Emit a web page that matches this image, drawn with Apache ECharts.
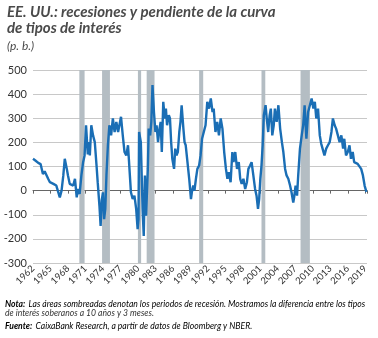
<!DOCTYPE html>
<html><head><meta charset="utf-8">
<script src="https://cdn.jsdelivr.net/npm/echarts@6/dist/echarts.min.js"></script>
<style>html,body{margin:0;padding:0;background:#fff}#c{width:378px;height:338px}</style>
</head><body><div id="c"></div>
<script>
const years = [1962.0,1962.4,1962.9,1963.3,1963.5,1963.7,1964.0,1964.3,1964.6,1964.9,1965.2,1965.5,1965.75,1966.0,1966.3,1966.6,1966.9,1967.2,1967.45,1967.8,1968.0,1968.3,1968.6,1968.9,1969.2,1969.5,1969.7,1970.0,1970.3,1970.6,1970.85,1971.1,1971.4,1971.55,1971.75,1972.0,1972.3,1972.6,1972.9,1973.1,1973.4,1973.6,1973.8,1974.0,1974.2,1974.4,1974.6,1974.85,1975.1,1975.4,1975.7,1976.0,1976.3,1976.6,1976.85,1977.1,1977.4,1977.7,1978.0,1978.3,1978.55,1978.8,1979.1,1979.4,1979.7,1979.95,1980.1,1980.2,1980.5,1980.8,1981.0,1981.2,1981.4,1981.7,1981.85,1982.1,1982.3,1982.5,1982.75,1983.0,1983.2,1983.45,1983.7,1983.9,1984.1,1984.35,1984.6,1984.8,1985.0,1985.3,1985.5,1985.7,1985.9,1986.2,1986.4,1986.6,1986.85,1987.1,1987.3,1987.5,1987.8,1988.0,1988.2,1988.5,1988.8,1989.1,1989.25,1989.5,1989.7,1989.95,1990.2,1990.5,1990.75,1991.0,1991.3,1991.6,1991.9,1992.2,1992.5,1992.8,1993.0,1993.3,1993.6,1993.9,1994.2,1994.5,1994.8,1995.1,1995.35,1995.6,1995.9,1996.2,1996.4,1996.7,1997.0,1997.3,1997.55,1997.8,1998.1,1998.4,1998.7,1998.95,1999.25,1999.5,1999.8,2000.1,2000.35,2000.6,2000.8,2001.0,2001.2,2001.4,2001.6,2001.9,2002.1,2002.35,2002.6,2002.8,2003.05,2003.3,2003.5,2003.8,2004.1,2004.4,2004.7,2004.95,2005.25,2005.5,2005.8,2006.1,2006.35,2006.65,2006.8,2007.05,2007.3,2007.5,2007.8,2008.1,2008.35,2008.6,2008.9,2009.2,2009.5,2009.8,2010.1,2010.35,2010.6,2010.9,2011.2,2011.45,2011.75,2012.0,2012.3,2012.6,2012.9,2013.2,2013.45,2013.75,2014.0,2014.3,2014.6,2014.9,2015.2,2015.4,2015.7,2016.0,2016.3,2016.55,2016.85,2017.1,2017.4,2017.7,2018.0,2018.3,2018.6,2018.9,2019.2];
const spread = [132,125,115,110,104,69,80,76,49,35,42,28,35,21,28,-28,0,63,132,90,63,28,35,21,49,-28,7,-14,63,118,146,271,150,201,146,271,229,201,104,35,-63,-146,-40,-7,-118,-76,63,188,271,229,299,243,285,243,250,306,229,160,146,188,90,-7,-35,-21,-76,-160,-118,243,201,-76,-188,63,-104,90,257,229,285,438,326,243,271,201,257,285,160,368,299,340,271,313,299,201,132,90,174,146,160,243,285,354,257,201,188,118,49,-35,-7,21,0,49,90,104,146,215,243,271,368,340,382,326,340,243,285,229,299,257,160,90,49,76,35,160,118,160,90,118,49,28,49,7,35,90,104,118,63,7,-21,-76,-35,49,104,188,313,354,299,243,313,340,229,271,340,285,354,257,201,160,90,63,49,21,-7,-49,-28,21,-21,63,174,229,271,354,215,326,354,382,340,368,299,340,229,194,201,146,174,188,201,243,299,271,257,229,201,229,174,215,146,160,188,132,160,118,125,111,118,90,63,20,-5];
const recStart = [1969.95,1973.85,1980.0,1981.5,1990.5,2001.2,2007.9];
const recEnd   = [1970.85,1975.2,1980.55,1982.85,1991.2,2001.85,2009.5];
const yearTicks = [1962,1965,1968,1971,1974,1977,1980,1983,1986,1989,1992,1995,1998,2001,2004,2007,2010,2013,2016,2019];
const yTicks = [-300,-200,-100,0,100,200,300,400,500];

const chart = echarts.init(document.getElementById('c'));
const F = 'Lato';
const isTick = v => yearTicks.some(t => Math.abs(t - v) < 1e-6);
chart.setOption({
  animation:false,
  textStyle:{fontFamily:F},
  grid:{left:33,right:11,top:70,bottom:75,containLabel:false},
  xAxis:[{
    type:'value',min:1962,max:2019.3,interval:3,
    axisLine:{show:false,onZero:false},axisTick:{show:false},splitLine:{show:false},
    axisLabel:{rotate:45,fontSize:9.5,color:'#333',margin:4,fontFamily:F,
      showMaxLabel:false,
      formatter:v=>isTick(v)?String(Math.round(v)):''}
  },{
    type:'value',min:1962,max:2019.3,interval:3,position:'bottom',
    axisLine:{show:true,onZero:true,lineStyle:{color:'#666',width:1}},
    axisTick:{show:true,length:3,lineStyle:{color:'#666'}},
    axisLabel:{show:false},splitLine:{show:false}
  }],
  yAxis:{type:'value',min:-300,max:500,interval:100,
    axisLine:{show:false},axisTick:{show:false},
    axisLabel:{fontSize:11,color:'#333',margin:6,fontFamily:F},
    splitLine:{lineStyle:{color:'#c8c8c8',width:1}}},
  series:[{
    type:'line',xAxisIndex:0,symbol:'none',
    data:years.map((y,i)=>[y,spread[i]]),
    lineStyle:{color:'#1a6eb5',width:2.4},
    z:5,
    markArea:{silent:true,itemStyle:{color:'#b4bdc3',opacity:1},
      data:recStart.map((s,i)=>[{xAxis:s},{xAxis:recEnd[i]}])}
  }],
  graphic:[
    {type:'text',left:7,top:5,style:{text:'EE. UU.: recesiones y pendiente de la curva',font:'italic bold 15px Lato',fill:'#4a4a4a'}},
    {type:'text',left:7,top:21,style:{text:'de tipos de interés',font:'italic bold 15px Lato',fill:'#4a4a4a'}},
    {type:'text',left:7,top:40,style:{text:'(p. b.)',font:'italic 12px Lato',fill:'#4a4a4a'}},
    {type:'text',left:5,top:298,style:{
      rich:{b:{fontFamily:F,fontStyle:'italic',fontWeight:'bold',fontSize:8.6,color:'#333'},
            n:{fontFamily:F,fontStyle:'italic',fontSize:8.6,color:'#333'}},
      text:'{b|Nota:} {n|Las áreas sombreadas denotan los periodos de recesión. Mostramos la diferencia entre los tipos}'}},
    {type:'text',left:5,top:309,style:{text:'de interés soberanos a 10 años y 3 meses.',font:'italic 8.6px Lato',fill:'#333'}},
    {type:'text',left:5,top:320,style:{
      rich:{b:{fontFamily:F,fontStyle:'italic',fontWeight:'bold',fontSize:8.6,color:'#333'},
            n:{fontFamily:F,fontStyle:'italic',fontSize:8.6,color:'#333'}},
      text:'{b|Fuente:} {n|CaixaBank Research, a partir de datos de Bloomberg y NBER.}'}}
  ]
});
</script></body></html>
